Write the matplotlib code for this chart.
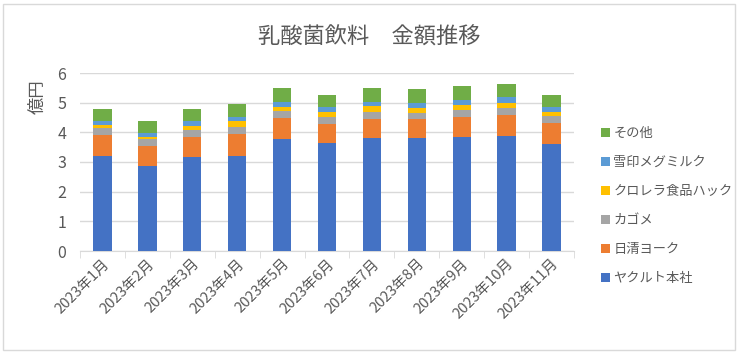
import numpy as np
import matplotlib.pyplot as plt
from matplotlib.patches import Rectangle

plt.rcParams['font.family'] = ['Noto Sans CJK JP', 'DejaVu Sans']

# data (億円)
months = ['2023年1月', '2023年2月', '2023年3月', '2023年4月', '2023年5月', '2023年6月',
          '2023年7月', '2023年8月', '2023年9月', '2023年10月', '2023年11月']
yakult = [3.19, 2.87, 3.17, 3.21, 3.78, 3.65, 3.82, 3.82, 3.85, 3.88, 3.61]
nissin = [0.73, 0.68, 0.68, 0.74, 0.71, 0.64, 0.64, 0.64, 0.68, 0.71, 0.71]
kagome = [0.23, 0.21, 0.24, 0.24, 0.24, 0.24, 0.23, 0.20, 0.23, 0.24, 0.24]
chlorella = [0.11, 0.09, 0.13, 0.18, 0.13, 0.16, 0.21, 0.17, 0.17, 0.17, 0.13]
snow = [0.13, 0.14, 0.15, 0.16, 0.17, 0.15, 0.13, 0.17, 0.17, 0.18, 0.17]
other = [0.41, 0.38, 0.43, 0.43, 0.47, 0.43, 0.47, 0.47, 0.47, 0.46, 0.41]

series = [
    ('ヤクルト本社', yakult, '#4472C4'),
    ('日清ヨーク', nissin, '#ED7D31'),
    ('カゴメ', kagome, '#A5A5A5'),
    ('クロレラ食品ハック', chlorella, '#FFC000'),
    ('雪印メグミルク', snow, '#5B9BD5'),
    ('その他', other, '#70AD47'),
]

W, H = 738, 354
fig = plt.figure(figsize=(W / 100, H / 100), dpi=100)
ax = fig.add_axes([80 / W, 1 - 251 / H, (574 - 80) / W, (251 - 73) / H])

x = np.arange(len(months))
bottom = np.zeros(len(months))
handles = []
for name, vals, col in series:
    b = ax.bar(x, vals, 0.41, bottom=bottom, color=col, label=name, zorder=3)
    handles.append(b)
    bottom += np.array(vals)

txt = '#595959'
ax.set_xlim(-0.5, len(months) - 0.5)
ax.set_ylim(0, 6)
ax.set_yticks(range(7))
ax.grid(axis='y', color='#D9D9D9', linewidth=1, zorder=0)
for s in ['top', 'right', 'left']:
    ax.spines[s].set_visible(False)
ax.spines['bottom'].set_color('#D9D9D9')
ax.tick_params(axis='y', length=0, labelsize=11.5, colors=txt, pad=10)
ax.set_xticks(x)
ax.set_xticklabels(months, rotation=45, ha='right', rotation_mode='anchor',
                   fontsize=10.5, color=txt)
ax.tick_params(axis='x', length=0, pad=4)
# category boundary tick marks
ax.set_xticks(np.arange(-0.5, len(months)), minor=True)
ax.tick_params(axis='x', which='minor', length=5, color='#D9D9D9', direction='out')

ax.set_ylabel('億円', fontsize=12.5, color=txt)
ax.yaxis.set_label_coords(-0.068, 0.87)

fig.text(369 / W, 1 - 37 / H, '乳酸菌飲料　金額推移', ha='center', va='center',
         fontsize=16, color=txt)

leg = fig.legend(handles[::-1], [s[0] for s in series][::-1],
                 loc='upper left', bbox_to_anchor=(589 / W, 1 - 115 / H),
                 frameon=False, fontsize=9.5, labelcolor=txt,
                 handlelength=0.7, handleheight=0.7, handletextpad=0.25,
                 labelspacing=1.22)

# chart border
fig.patches.append(Rectangle((3 / W, 4 / H), (732 / W), (H - 8) / H,
                             transform=fig.transFigure, fill=False,
                             edgecolor='#D9D9D9', linewidth=1))

fig.savefig('out.png', dpi=100)
